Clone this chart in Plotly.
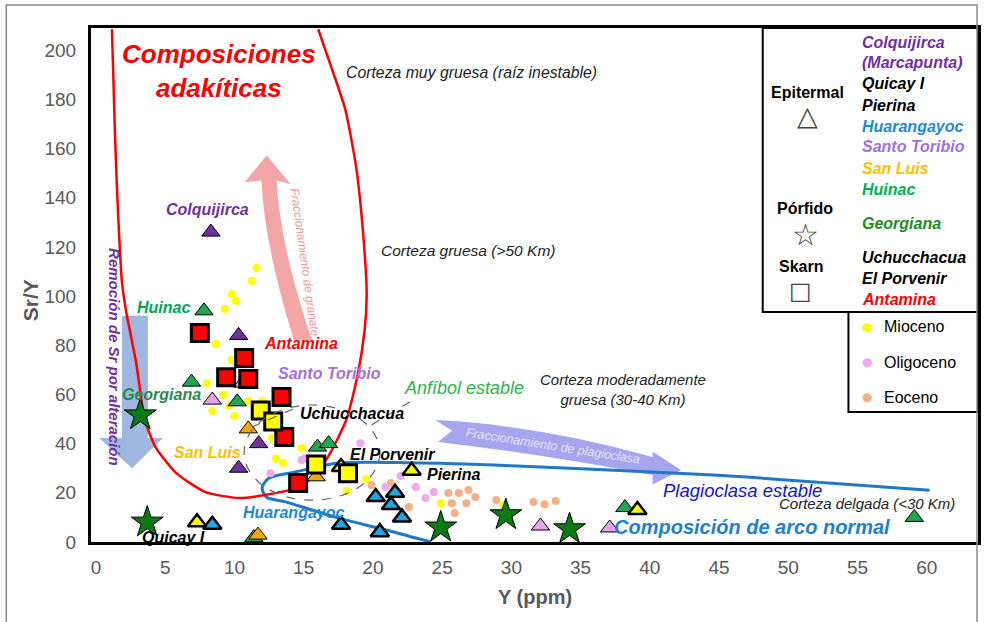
import plotly.graph_objects as go

# ---------------- data ----------------
# Epitermal deposits (triangles)
colquijirca_x = [8.3, 10.3, 11.75, 10.3]
colquijirca_y = [126, 84, 40, 30]
huinac_x = [7.8, 6.9, 10.2, 16.0, 16.8, 38.2, 59.1, 11.4]
huinac_y = [94, 65, 57, 38.6, 40, 14, 10, 1.8]
sanluis_x = [11.0, 15.9, 11.7]
sanluis_y = [46, 26.5, 2.8]
quicay_pierina_x = [7.3, 17.7, 22.8, 39.1]
quicay_pierina_y = [8, 30.5, 29, 13]
huarangayoc_x = [8.4, 20.2, 21.6, 21.3, 22.1, 17.7, 20.5]
huarangayoc_y = [7, 18.3, 20, 15, 10, 7, 4]
santotoribio_x = [10.6, 8.4, 32.1, 37.1]
santotoribio_y = [64.6, 57.7, 6.5, 5.7]

# Porfido (stars)
georgiana_x = [3.2, 3.7, 24.9, 29.6, 34.2]
georgiana_y = [51.6, 8, 6, 11, 5.3]

# Skarn (squares)
antamina_x = [7.5, 10.7, 9.4, 11.0, 13.4, 13.6, 14.6]
antamina_y = [85, 74.8, 67, 66.3, 59, 42.7, 24]
uchucchacua_x = [11.9, 12.8, 15.9, 18.2]
uchucchacua_y = [53.5, 49, 31.5, 28]

# Age of the samples (small dots)
mioceno_x = [11.6, 11.25, 9.8, 10.1, 9.3, 8.65, 9.8, 8.0, 9.2, 8.4, 9.6, 10.0,
             11.0, 12.0, 12.7, 13.0, 13.5, 14.85, 19.5, 18.1, 24.9, 29.4]
mioceno_y = [111.4, 106.1, 100.8, 98, 94.7, 80.5, 74, 64.6, 59.8, 53.3, 55.3, 51.2,
             57.3, 57.3, 42.3, 33.8, 32.1, 38.2, 25.6, 20.7, 15.8, 15]
oligoceno_x = [19.1, 15.1, 20.9, 22.0, 23.1, 23.8, 24.4, 12.6, 14.85]
oligoceno_y = [40.2, 34.1, 22.4, 26.8, 22.4, 17.9, 20.3, 28, 33.3]
eoceno_x = [19.9, 21.3, 22.6, 25.45, 26.2, 26.9, 25.7, 26.75, 27.4, 25.9, 28.9,
            31.6, 32.4, 33.2]
eoceno_y = [23.2, 24, 14.2, 19.9, 19.9, 21.1, 15.8, 15.8, 18.3, 11.8, 17.1,
            16.3, 15.4, 16.7]

# Field boundaries
adakite_x = [1.15, 1.26, 1.37, 1.5, 1.66, 1.87, 2.2, 2.55, 2.9, 3.2, 3.5, 4.3,
             5.8, 7.9, 10.3, 12.6, 14.5, 15.8, 16.9, 18.1, 18.9, 19.4, 19.55,
             19.3, 18.8, 18.0, 17.0, 16.05]
adakite_y = [208.5, 188, 166, 146, 126, 106, 93, 83, 73, 61, 50, 38.6,
             28, 20.3, 17.9, 19.5, 22, 27, 36, 50, 68, 86, 101,
             125, 152, 176, 193, 208.5]
normal_arc_x = [60.2, 47, 42, 30, 22.8, 17.5, 14.4, 12.5, 12.0, 12.3, 13.7, 15.6,
                18.0, 20.4, 23.1, 24.2]
normal_arc_y = [21, 26.4, 28, 31, 32.2, 32.1, 28.5, 26, 22, 18.3, 16.3, 13,
                9, 5.7, 1.6, 0]

x_ticks = list(range(0, 61, 5))
y_ticks = list(range(0, 201, 20))

# ---------------- styling helpers ----------------
FONT = "Liberation Sans, Arial, sans-serif"
NARROW = "Liberation Sans Narrow, Arial Narrow, sans-serif"
GLYPH = "DejaVu Sans, sans-serif"
AXIS_GREY = "#595959"

W, H = 987, 622
ML, MR, MT, MB = 91, 6, 28, 80


def px_x(p):
    return (p - ML) / (W - ML - MR)


def px_y(p):
    return (H - MB - p) / (H - MT - MB)


fig = go.Figure()

# boundary curves (simplify off so the spline keeps every vertex)
fig.add_trace(go.Scatter(x=normal_arc_x, y=normal_arc_y, mode="lines",
                         line=dict(color="#1F78C8", width=3, shape="spline",
                                   smoothing=0.8, simplify=False),
                         hoverinfo="skip"))
fig.add_trace(go.Scatter(x=adakite_x, y=adakite_y, mode="lines",
                         line=dict(color="#FF0000", width=2.5, shape="spline",
                                   smoothing=0.6, simplify=False),
                         hoverinfo="skip"))


def dots(x, y, color):
    fig.add_trace(go.Scatter(x=x, y=y, mode="markers", cliponaxis=False,
                             marker=dict(size=8, color=color, line=dict(width=0))))


dots(eoceno_x, eoceno_y, "#F4B183")
dots(oligoceno_x, oligoceno_y, "#F0A8F0")
dots(mioceno_x, mioceno_y, "#FFFF00")


def marks(x, y, symbol, size, color, lw):
    fig.add_trace(go.Scatter(x=x, y=y, mode="markers", cliponaxis=False,
                             marker=dict(symbol=symbol, size=size, color=color,
                                         line=dict(color="black", width=lw))))


marks(santotoribio_x, santotoribio_y, "triangle-up", 16, "#E8A2EC", 1)
marks(colquijirca_x, colquijirca_y, "triangle-up", 16, "#7030A0", 1)
marks(huinac_x, huinac_y, "triangle-up", 16, "#20A64E", 1)
marks(sanluis_x, sanluis_y, "triangle-up", 16, "#F5A800", 1)
marks(huarangayoc_x, huarangayoc_y, "triangle-up", 16, "#1BA8E6", 2.5)
marks(quicay_pierina_x, quicay_pierina_y, "triangle-up", 16, "#FFFF00", 2.5)
marks(georgiana_x, georgiana_y, "star", 24, "#0C7A12", 1)
marks(antamina_x, antamina_y, "square", 17, "#FF0000", 3)
marks(uchucchacua_x, uchucchacua_y, "square", 17, "#FFFF00", 3)

shapes = []
# arrow: Sr removal by alteration
shapes.append(dict(type="path", xref="x", yref="y", layer="below",
                   path="M 1.87,92 L 3.75,92 L 3.75,42.3 L 4.83,42.3 L 2.6,30 "
                        "L 0.22,42.3 L 1.87,42.3 Z",
                   fillcolor="rgba(143,170,220,0.85)", line=dict(width=0)))
# arrow: garnet fractionation
shapes.append(dict(type="path", xref="x", yref="y", layer="below",
                   path="M 11.95,147 L 10.74,146.3 L 12.33,157.3 L 14.06,145.5 L 13.05,147 "
                        "Q 13.25,121 15.6,82 L 14.3,82 Q 12.15,121 11.95,147 Z",
                   fillcolor="rgba(242,150,150,0.85)", line=dict(width=0)))
# arrow: plagioclase fractionation
shapes.append(dict(type="path", xref="x", yref="y", layer="below",
                   path="M 24.5,49.6 Q 31.9,47.6 40.2,34.6 L 40.2,36.8 L 42.25,29.3 "
                        "L 40.2,23.4 L 40.2,27.2 Q 32.7,35.4 24.7,40.7 L 25.7,45.2 Z",
                   fillcolor="rgba(150,150,235,0.85)", line=dict(width=0)))
# dashed grouping ellipse and leaders
shapes.append(dict(type="circle", xref="x", yref="y", x0=10.7, x1=20.5, y0=17, y1=55.7,
                   line=dict(color="#666666", width=1.2, dash="dash")))
shapes.append(dict(type="line", xref="x", yref="y", x0=19.9, y0=47.6, x1=22.9, y1=57.7,
                   line=dict(color="#666666", width=1.2, dash="dash")))
shapes.append(dict(type="line", xref="x", yref="y", x0=11.25, y0=46.7, x1=14.4, y1=54.5,
                   line=dict(color="#666666", width=1.2, dash="dash")))
# legend boxes
shapes.append(dict(type="rect", xref="paper", yref="paper", layer="above",
                   x0=px_x(765), x1=px_x(981), y0=px_y(312), y1=px_y(28),
                   fillcolor="white", line=dict(color="black", width=2)))
shapes.append(dict(type="rect", xref="paper", yref="paper", layer="above",
                   x0=px_x(851), x1=px_x(981), y0=px_y(412), y1=px_y(312),
                   fillcolor="white", line=dict(color="black", width=2)))
# outer frame
shapes.append(dict(type="rect", xref="paper", yref="paper", layer="above",
                   x0=px_x(6), x1=px_x(980), y0=px_y(650), y1=px_y(5),
                   line=dict(color="#8A8A8A", width=1.5)))

ann = []


def label(x, y, text, color, size, bold=True, italic=True, angle=0,
          xanchor="center", family=FONT):
    t = text
    if italic:
        t = "<i>" + t + "</i>"
    if bold:
        t = "<b>" + t + "</b>"
    ann.append(dict(x=x, y=y, xref="x", yref="y", text=t, showarrow=False,
                    textangle=angle, xanchor=xanchor, yanchor="middle",
                    font=dict(family=family, size=size, color=color)))


def plabel(pxx, pxy, text, color, size, bold=True, italic=True, xanchor="center",
           family=FONT):
    t = text
    if italic:
        t = "<i>" + t + "</i>"
    if bold:
        t = "<b>" + t + "</b>"
    ann.append(dict(x=px_x(pxx), y=px_y(pxy), xref="paper", yref="paper", text=t,
                    showarrow=False, xanchor=xanchor, yanchor="middle",
                    font=dict(family=family, size=size, color=color)))


label(8.87, 191.5, "Composiciones<br>adakíticas", "#FF0000", 26)
label(27.1, 191, "Corteza muy gruesa (raíz inestable)", "#222222", 15.8, bold=False)
label(26.9, 118.7, "Corteza gruesa (>50 Km)", "#222222", 15.5, bold=False)
label(38.07, 62.2, "Corteza moderadamente<br>gruesa (30-40 Km)", "#222222", 15, bold=False)
label(55.7, 15.6, "Corteza delgada (<30 Km)", "#222222", 15, bold=False)
label(8.04, 135, "Colquijirca", "#7030A0", 16)
label(4.87, 95.5, "Huinac", "#00A651", 16)
label(14.8, 80.9, "Antamina", "#FF0000", 16)
label(16.9, 68.7, "Santo Toribio", "#A070DC", 16)
label(26.6, 62.6, "Anfíbol estable", "#2DB34A", 18, bold=False)
label(4.76, 59.8, "Georgiana", "#2A8A4A", 16)
label(18.5, 52.4, "Uchucchacua", "black", 16)
label(21.4, 35.4, "El Porvenir", "black", 16)
label(25.8, 27.6, "Pierina", "black", 16)
label(8.07, 36.2, "San Luis", "#FFC000", 16)
label(14.24, 12.2, "Huarangayoc", "#1E88D0", 16)
label(5.62, 2.0, "Quicay I", "black", 16)
label(46.7, 21.1, "Plagioclasa estable", "#1515C8", 18.5, bold=False)
label(47.4, 6.1, "Composición de arco normal", "#1E7FD0", 20)
label(15.07, 113.8, "Fraccionamiento de granate", "#F29A9A", 12, bold=False, angle=82)
label(1.37, 75.2, "Remoción de Sr por alteración", "#7030A0", 15, angle=90)
label(33.0, 39.0, "Fraccionamiento de plagioclasa", "#E4E4FF", 12.5, bold=False, angle=9)

# legend: deposit types
plabel(810, 92, "Epitermal", "black", 16, italic=False)
plabel(810, 116, "△", "#444444", 27, bold=False, italic=False, family=GLYPH)
plabel(807, 209, "Pórfido", "black", 16, italic=False)
plabel(808, 234, "☆", "#444444", 30, bold=False, italic=False, family=GLYPH)
plabel(803, 266, "Skarn", "black", 16, italic=False)
plabel(803, 291, "□", "#444444", 24, bold=False, italic=False, family=GLYPH)

legend_names = ["Colquijirca", "(Marcapunta)", "Quicay I", "Pierina", "Huarangayoc",
                "Santo Toribio", "San Luis", "Huinac", "Georgiana", "Uchucchacua",
                "El Porvenir", "Antamina"]
legend_colors = ["#7030A0", "#7030A0", "black", "black", "#1E88D0", "#A070DC",
                 "#FFC000", "#00B050", "#1E8C1E", "black", "black", "#FF0000"]
legend_rows = [42, 63, 84, 105, 127, 147, 168, 189, 223, 257, 278, 299]
for name, col, row in zip(legend_names, legend_colors, legend_rows):
    plabel(863, row, name, col, 16, xanchor="left")

# legend: ages
age_names = ["Mioceno", "Oligoceno", "Eoceno"]
age_colors = ["#FFFF00", "#F0A8F0", "#F4B183"]
age_rows = [327, 362, 397]
for name, col, row in zip(age_names, age_colors, age_rows):
    plabel(870, row, "●", col, 12, bold=False, italic=False, family=GLYPH)
    plabel(885, row, name, "black", 16, bold=False, italic=False, xanchor="left")

# axis titles
plabel(30, 300, "Sr/Y", AXIS_GREY, 21, italic=False, family=NARROW)
ann[-1]["textangle"] = -90
plabel(537, 597, "Y (ppm)", AXIS_GREY, 20, italic=False, family=NARROW)

fig.update_layout(
    width=W, height=H,
    margin=dict(l=ML, r=MR, t=MT, b=MB),
    plot_bgcolor="white", paper_bgcolor="white",
    showlegend=False,
    shapes=shapes, annotations=ann,
    xaxis=dict(range=[-0.36, 63.7], tickvals=x_ticks, showgrid=False, zeroline=False,
               showline=True, mirror=True, linecolor="black", linewidth=3,
               ticks="", ticklabelstandoff=6,
               tickfont=dict(family=NARROW, size=19, color=AXIS_GREY)),
    yaxis=dict(range=[0, 209], tickvals=y_ticks, showgrid=False, zeroline=False,
               showline=True, mirror=True, linecolor="black", linewidth=3,
               ticks="", ticklabelstandoff=8,
               tickfont=dict(family=NARROW, size=19, color=AXIS_GREY)),
)

fig.write_html("out.html")
